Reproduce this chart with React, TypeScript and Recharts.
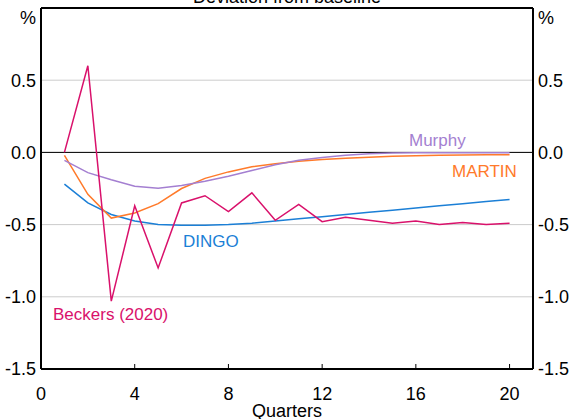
import { LineChart, Line, XAxis, YAxis, CartesianGrid, ReferenceLine } from 'recharts';

const FONT = '"Liberation Sans", Arial, sans-serif';

const quarters = [1, 2, 3, 4, 5, 6, 7, 8, 9, 10, 11, 12, 13, 14, 15, 16, 17, 18, 19, 20];
const beckers = [0, 0.6, -1.03, -0.37, -0.8, -0.35, -0.3, -0.41, -0.28, -0.47, -0.36, -0.48, -0.45, -0.47, -0.49, -0.475, -0.5, -0.485, -0.5, -0.49];
const dingo = [-0.22, -0.35, -0.43, -0.475, -0.5, -0.505, -0.505, -0.5, -0.49, -0.475, -0.46, -0.445, -0.43, -0.415, -0.4, -0.385, -0.37, -0.355, -0.34, -0.327];
const martin = [-0.02, -0.29, -0.455, -0.42, -0.355, -0.25, -0.18, -0.135, -0.1, -0.078, -0.062, -0.05, -0.04, -0.033, -0.027, -0.023, -0.02, -0.018, -0.017, -0.016];
const murphy = [-0.055, -0.14, -0.19, -0.235, -0.248, -0.23, -0.2, -0.165, -0.125, -0.085, -0.055, -0.035, -0.02, -0.01, -0.005, -0.003, -0.002, -0.002, -0.002, -0.002];

const xTicks = [0, 4, 8, 12, 16, 20];
const yTicks = [-1.5, -1, -0.5, 0, 0.5];

const C_BECKERS = '#d9116b';
const C_DINGO = '#1b7fd6';
const C_MARTIN = '#ff7a2a';
const C_MURPHY = '#a47fd1';

const data = quarters.map((q, i) => ({
  q,
  beckers: beckers[i],
  dingo: dingo[i],
  martin: martin[i],
  murphy: murphy[i],
}));

function QuarterTick(props: any) {
  const { x, y, payload } = props;
  return (
    <g>
      {payload.value !== 0 && (
        <line x1={x} x2={x} y1={y - 18} y2={y - 23} stroke="#000" strokeWidth={1} />
      )}
      <text x={x} y={y} dy="0.71em" textAnchor="middle" fill="#000" fontSize={18} fontFamily={FONT}>
        {payload.value}
      </text>
    </g>
  );
}

const yTick = { fill: '#000', fontSize: 18, fontFamily: FONT };
const fmt = (v: number) => v.toFixed(1);

export default function App() {
  return (
    <div style={{ position: 'absolute', left: 0, top: 0, width: 570, height: 419, fontFamily: FONT }}>
      <LineChart width={570} height={419} data={data} margin={{ top: 8, right: 0, bottom: 0, left: 0 }}>
        <CartesianGrid yAxisId="left" vertical={false} stroke="#cccccc" strokeWidth={1} />
        <XAxis
          dataKey="q"
          type="number"
          domain={[0, 21]}
          ticks={xTicks}
          height={50}
          tickSize={0}
          tickMargin={18}
          tick={<QuarterTick />}
          axisLine={{ stroke: '#000', strokeWidth: 2 }}
          tickLine={false}
        />
        <YAxis
          yAxisId="left"
          domain={[-1.5, 1]}
          ticks={yTicks}
          width={41}
          tickSize={0}
          tickMargin={5}
          tick={yTick}
          tickFormatter={fmt}
          axisLine={{ stroke: '#000', strokeWidth: 2 }}
          tickLine={false}
        />
        <YAxis
          yAxisId="right"
          orientation="right"
          domain={[-1.5, 1]}
          ticks={yTicks}
          width={37}
          tickSize={0}
          tickMargin={5}
          tick={yTick}
          tickFormatter={fmt}
          axisLine={{ stroke: '#000', strokeWidth: 2 }}
          tickLine={false}
        />
        <ReferenceLine yAxisId="left" y={0} stroke="#000" strokeWidth={1} />
        <ReferenceLine yAxisId="left" y={1} stroke="#000" strokeWidth={2} ifOverflow="visible" />
        <Line yAxisId="left" dataKey="dingo" stroke={C_DINGO} strokeWidth={1.5} dot={false} isAnimationActive={false} />
        <Line yAxisId="left" dataKey="martin" stroke={C_MARTIN} strokeWidth={1.5} dot={false} isAnimationActive={false} />
        <Line yAxisId="right" dataKey="murphy" stroke={C_MURPHY} strokeWidth={1.5} dot={false} isAnimationActive={false} />
        <Line yAxisId="left" dataKey="beckers" stroke={C_BECKERS} strokeWidth={1.5} dot={false} isAnimationActive={false} />
      </LineChart>
      <svg
        width={570}
        height={419}
        style={{ position: 'absolute', left: 0, top: 0, pointerEvents: 'none' }}
        fontFamily={FONT}
      >
        <text x={287} y={3} textAnchor="middle" fontSize={18} fill="#000">Deviation from baseline</text>
        <text x={36} y={24} textAnchor="end" fontSize={18} fill="#000">%</text>
        <text x={538} y={24} textAnchor="start" fontSize={18} fill="#000">%</text>
        <text x={287} y={417} textAnchor="middle" fontSize={18} fill="#000">Quarters</text>
        <text x={409} y={146} fontSize={17} fill={C_MURPHY}>Murphy</text>
        <text x={452} y={177} fontSize={17} fill={C_MARTIN}>MARTIN</text>
        <text x={183} y={247} fontSize={17} fill={C_DINGO}>DINGO</text>
        <text x={53} y={320} fontSize={17} fill={C_BECKERS}>Beckers (2020)</text>
      </svg>
    </div>
  );
}
